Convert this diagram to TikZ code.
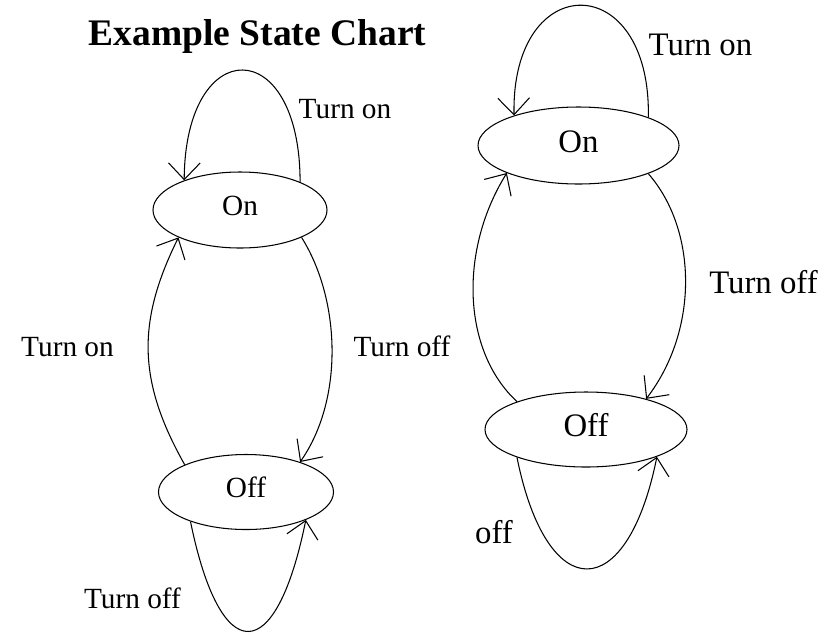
\documentclass[tikz,border=0pt]{standalone}
\usepackage{fontspec}
\setmainfont{Liberation Serif}
\usetikzlibrary{arrows.meta,shapes.geometric}

\begin{document}
\begin{tikzpicture}[
  x=0.03cm, y=-0.03cm,
  >={Straight Barb[length=5mm,width=9.5mm]},
  state/.style={draw, ellipse, line width=0.9pt, inner sep=0pt, text depth=0.24cm},
  stateA/.style={state, text height=16.5pt, font=\fontsize{25}{28}\selectfont},
  stateB/.style={state, text height=18.5pt, font=\fontsize{28}{32}\selectfont},
  trans/.style={->, line width=0.9pt},
  lblA/.style={anchor=base, font=\fontsize{25}{28}\selectfont},
  lblB/.style={anchor=base, font=\fontsize{28}{32}\selectfont}
]
  \useasboundingbox (0,0) rectangle (824,634);
  \node[anchor=base, font=\fontsize{32}{36}\selectfont\bfseries] (title) at (257.5,45) {Example State Chart};
  % left chart
  \node[stateA, minimum width=5.22cm, minimum height=2.28cm] (onA) at (240,210) {On};
  \node[stateA, minimum width=5.25cm, minimum height=2.25cm] (offA) at (246,492) {Off};
  \draw[trans] (onA.25) .. controls +(0,-149) and +(1,-147) .. (onA.152);
  \draw[trans] (offA.156) .. controls +(-48,-85) and +(-41,83) .. (onA.204);
  \draw[trans] (onA.336) .. controls +(39,62) and +(44,-63) .. (offA.29);
  \draw[trans] (offA.208) .. controls +(30,147) and +(-30,148) .. (offA.335);
  \node[lblA] (lonTop) at (345,118) {Turn on};
  \node[lblA] (lonSide) at (67.5,356) {Turn on};
  \node[lblA] (loffSide) at (402,356) {Turn off};
  \node[lblA] (loffBot) at (132.5,608) {Turn off};
  % right chart
  \node[stateB, minimum width=6.03cm, minimum height=2.31cm] (onB) at (578.5,145.5) {On};
  \node[stateB, minimum width=6.06cm, minimum height=2.25cm] (offB) at (586,429.5) {Off};
  \draw[trans] (onB.22.5) .. controls +(3,-149) and +(-3,-147) .. (onB.155);
  \draw[trans] (offB.158) .. controls +(-55,-51) and +(-48,77) .. (onB.201);
  \draw[trans] (onB.338) .. controls +(49,56) and +(53,-69) .. (offB.27);
  \draw[trans] (offB.202) .. controls +(30,149) and +(-30,149) .. (offB.339);
  \node[lblB] (ronTop) at (700.5,55) {Turn on};
  \node[lblB] (roffSide) at (763.5,293) {Turn off};
  \node[lblB] (roffBot) at (494,543) {off};
\end{tikzpicture}
\end{document}
